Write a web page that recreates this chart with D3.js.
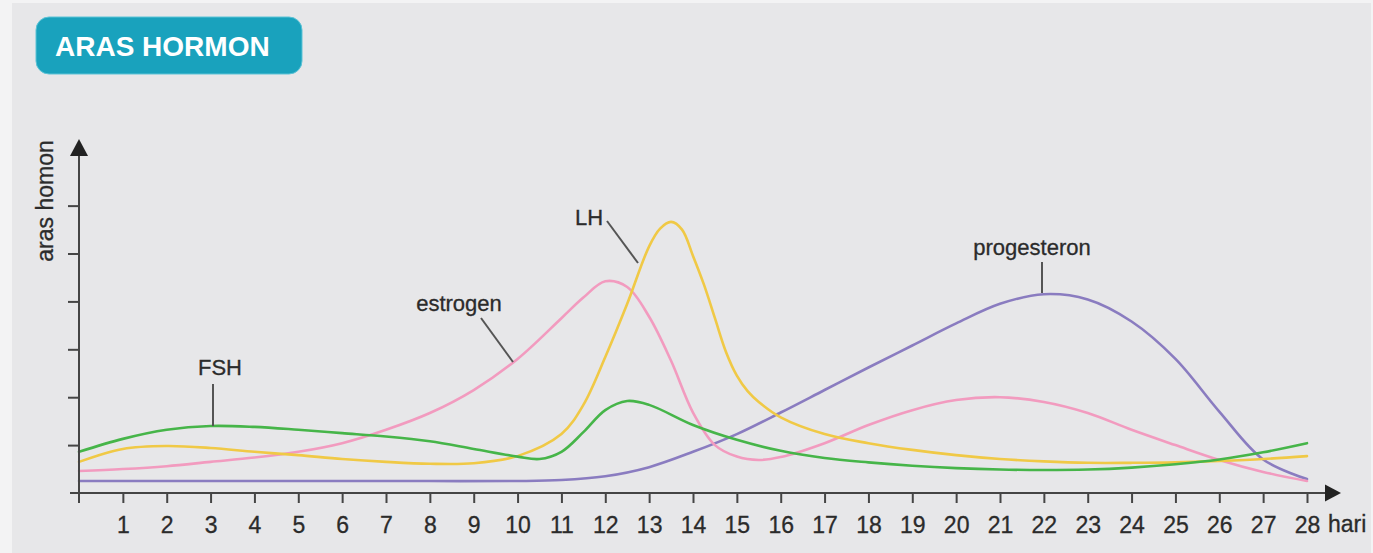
<!DOCTYPE html>
<html>
<head>
<meta charset="utf-8">
<script src="https://cdn.jsdelivr.net/npm/d3@7"></script>
<style>
  html, body { margin: 0; padding: 0; background: #f3f3f4; }
  svg { display: block; }
  text { font-family: "Liberation Sans", Arial, sans-serif; }
</style>
</head>
<body>
<svg id="chart" width="1373" height="553"></svg>
<script>
// ---- data ----
const title = "ARAS HORMON";
const yLabel = "aras homon";
const xLabel = "hari";
const dayTicks = d3.range(1, 29);
const levelTicks = [1, 2, 3, 4, 5, 6];

const fshDays = [0, 1, 2, 3, 4, 5, 6, 7, 8, 9, 10, 10.5, 11, 11.5, 12, 12.5, 13, 14, 15, 16, 17, 18, 19, 20, 21, 22, 23, 24, 25, 26, 27, 28];
const fshValues = [0.86, 1.13, 1.32, 1.40, 1.38, 1.32, 1.25, 1.18, 1.08, 0.92, 0.76, 0.71, 0.86, 1.27, 1.73, 1.92, 1.84, 1.42, 1.11, 0.88, 0.73, 0.64, 0.57, 0.52, 0.49, 0.48, 0.49, 0.53, 0.60, 0.70, 0.85, 1.04];

const lhDays = [0, 1, 2, 3, 4, 5, 6, 7, 8, 9, 10, 11, 11.5, 12, 12.5, 13, 13.25, 13.5, 13.75, 14, 14.25, 14.5, 14.75, 15, 15.25, 15.5, 16, 17, 18, 19, 20, 21, 22, 23, 24, 25, 26, 27, 28];
const lhValues = [0.65, 0.92, 0.98, 0.94, 0.86, 0.79, 0.71, 0.65, 0.61, 0.62, 0.77, 1.23, 1.84, 2.84, 3.95, 5.15, 5.52, 5.66, 5.50, 4.95, 4.35, 3.65, 2.95, 2.45, 2.12, 1.90, 1.58, 1.23, 1.04, 0.90, 0.79, 0.71, 0.66, 0.63, 0.63, 0.64, 0.67, 0.71, 0.77];

const estrogenDays = [0, 1, 2, 3, 4, 5, 6, 7, 8, 9, 10, 11, 11.5, 12, 12.5, 13, 13.5, 14, 14.5, 15, 15.5, 16, 17, 18, 19, 20, 21, 22, 23, 24, 25, 26, 27, 28];
const estrogenValues = [0.46, 0.50, 0.56, 0.65, 0.74, 0.86, 1.04, 1.32, 1.67, 2.15, 2.80, 3.65, 4.08, 4.42, 4.30, 3.68, 2.76, 1.68, 1.00, 0.76, 0.69, 0.75, 1.04, 1.42, 1.73, 1.94, 2.00, 1.90, 1.67, 1.32, 1.00, 0.69, 0.44, 0.25];

const progDays = [0, 2, 4, 6, 8, 10, 11, 12, 13, 14, 15, 16, 17, 18, 19, 20, 21, 22, 23, 24, 25, 26, 27, 28];
const progValues = [0.25, 0.25, 0.25, 0.25, 0.25, 0.25, 0.27, 0.35, 0.54, 0.86, 1.23, 1.68, 2.15, 2.62, 3.08, 3.54, 3.95, 4.15, 4.04, 3.58, 2.80, 1.70, 0.70, 0.29];

const seriesNames = ["FSH", "LH", "estrogen", "progesteron"];
const seriesColors = ["#46b549", "#f0c946", "#f29bbf", "#8a7cc0"];

// ---- layout ----
const svg = d3.select("#chart");
svg.append("rect").attr("x", 12).attr("y", 3).attr("width", 1359).attr("height", 550).attr("fill", "#e7e7e9");

const x = d3.scaleLinear().domain([0, 28]).range([79, 1307]);
const y = d3.scaleLinear().domain([0, 7.37]).range([493, 140]);

// title badge
svg.append("rect").attr("x", 36).attr("y", 17).attr("width", 266).attr("height", 57)
  .attr("rx", 13).attr("fill", "#19a2bd").attr("stroke", "#5cc3d6").attr("stroke-width", 1);
svg.append("text").attr("x", 55).attr("y", 56).text(title)
  .attr("fill", "#ffffff").attr("font-weight", "bold").attr("font-size", 28);

const axisColor = "#454545";
const textColor = "#2b2b2b";

// curves
const series = [
  { days: fshDays, values: fshValues },
  { days: lhDays, values: lhValues },
  { days: estrogenDays, values: estrogenValues },
  { days: progDays, values: progValues }
];
const line = d3.line().x(d => x(d[0])).y(d => y(d[1])).curve(d3.curveCatmullRom.alpha(0.5));
// draw order: progesteron, estrogen, LH, FSH
[3, 2, 1, 0].forEach(i => {
  const s = series[i];
  svg.append("path")
    .datum(s.days.map((d, k) => [d, s.values[k]]))
    .attr("d", line)
    .attr("fill", "none")
    .attr("stroke", seriesColors[i])
    .attr("stroke-width", 2.6)
    .attr("stroke-linecap", "round");
});

// x axis
const xAxis = d3.axisBottom(x).tickValues(dayTicks).tickSize(10).tickPadding(9).tickFormat(d3.format("d"));
const gx = svg.append("g").attr("transform", `translate(0,${y(0)})`).call(xAxis);
gx.select(".domain").remove();
gx.selectAll(".tick line").attr("stroke", axisColor).attr("stroke-width", 2);
gx.selectAll(".tick text").attr("fill", textColor).attr("font-size", 23)
  .attr("stroke", textColor).attr("stroke-width", 0.3)
  .attr("font-family", "'Liberation Sans', Arial, sans-serif").attr("dy", "0.9em");
svg.append("line").attr("x1", 70).attr("x2", 1328).attr("y1", y(0)).attr("y2", y(0))
  .attr("stroke", axisColor).attr("stroke-width", 2);
svg.append("path").attr("d", `M1325,${y(0) - 8.5}L1341,${y(0)}L1325,${y(0) + 8.5}Z`).attr("fill", "#222");
svg.append("text").attr("x", 1328).attr("y", 532).text(xLabel).attr("fill", textColor)
  .attr("stroke", textColor).attr("stroke-width", 0.3).attr("font-size", 23);

// y axis
const yAxis = d3.axisLeft(y).tickValues(levelTicks).tickSize(11).tickFormat("");
const gy = svg.append("g").attr("transform", `translate(${x(0)},0)`).call(yAxis);
gy.select(".domain").remove();
gy.selectAll(".tick line").attr("stroke", axisColor).attr("stroke-width", 2);
svg.append("line").attr("x1", x(0)).attr("x2", x(0)).attr("y1", y(0) + 10).attr("y2", 154)
  .attr("stroke", axisColor).attr("stroke-width", 2);
svg.append("path").attr("d", `M${x(0) - 9},156L${x(0)},139L${x(0) + 9},156Z`).attr("fill", "#222");
svg.append("text").attr("transform", "translate(53,201) rotate(-90)").attr("text-anchor", "middle")
  .text(yLabel).attr("fill", textColor).attr("stroke", textColor).attr("stroke-width", 0.3).attr("font-size", 23);

// series labels with leader lines
const labels = [
  { name: seriesNames[0], tx: 220, ty: 375, x1: 213, y1: 384, x2: 213, y2: 426 },
  { name: seriesNames[1], tx: 589, ty: 225, x1: 607, y1: 221, x2: 638, y2: 263 },
  { name: seriesNames[2], tx: 459, ty: 311, x1: 481, y1: 318, x2: 513, y2: 362 },
  { name: seriesNames[3], tx: 1032, ty: 255, x1: 1042, y1: 262, x2: 1042, y2: 293 }
];
labels.forEach(l => {
  svg.append("line").attr("x1", l.x1).attr("y1", l.y1).attr("x2", l.x2).attr("y2", l.y2)
    .attr("stroke", "#555").attr("stroke-width", 2);
  svg.append("text").attr("x", l.tx).attr("y", l.ty).attr("text-anchor", "middle")
    .text(l.name).attr("fill", textColor).attr("stroke", textColor).attr("stroke-width", 0.3)
    .attr("font-size", 22);
});
</script>
</body>
</html>
